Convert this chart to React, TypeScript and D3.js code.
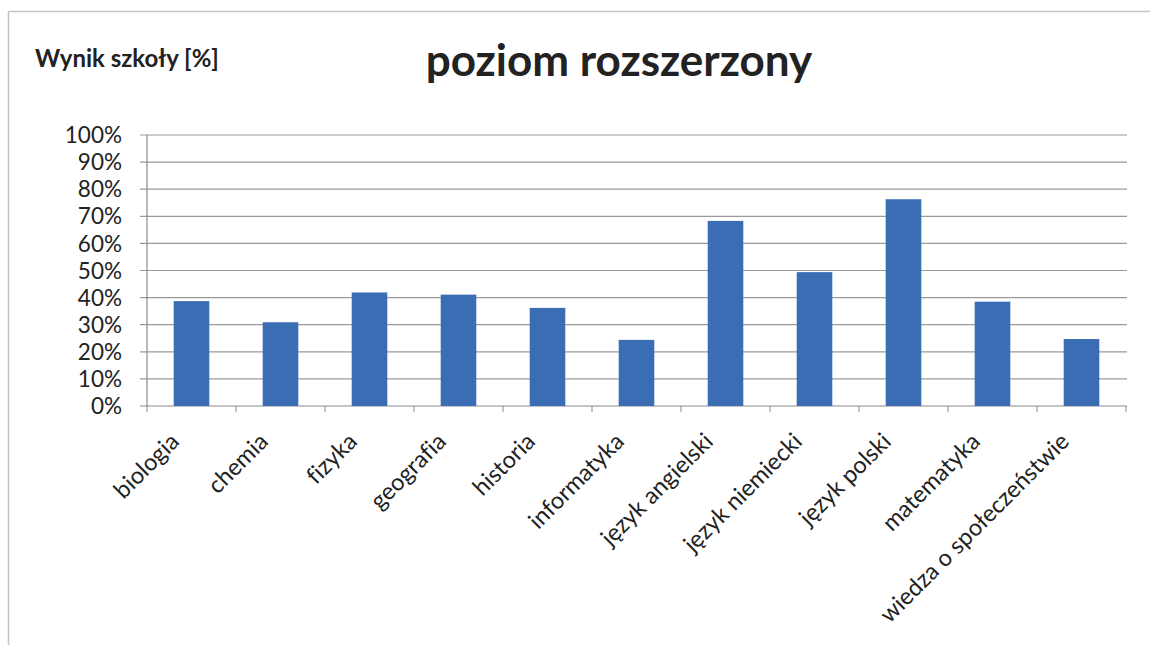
import React from "react";
import * as d3 from "d3";

const categories: string[] = [
  "biologia",
  "chemia",
  "fizyka",
  "geografia",
  "historia",
  "informatyka",
  "język angielski",
  "język niemiecki",
  "język polski",
  "matematyka",
  "wiedza o społeczeństwie",
];
const values: number[] = [0.387, 0.309, 0.419, 0.411, 0.362, 0.244, 0.683, 0.494, 0.763, 0.385, 0.247];
const yTicks: number[] = [0, 0.1, 0.2, 0.3, 0.4, 0.5, 0.6, 0.7, 0.8, 0.9, 1.0];
const title = "poziom rozszerzony";
const axisTitle = "Wynik szkoły [%]";

const W = 1150;
const H = 645;
const FONT = "Lato, 'Open Sans', sans-serif";

export default function App() {
  const left = 147;
  const right = 1126;
  const top = 135;
  const bottom = 406;
  const x = d3
    .scaleBand<string>()
    .domain(categories)
    .range([left, right])
    .paddingInner(0.6)
    .paddingOuter(0.3);
  const y = d3.scaleLinear().domain([0, 1]).range([bottom, top]);
  const fmt = d3.format(".0%");
  const step = x.step();
  const boundaries = d3.range(categories.length + 1).map((i) => left + i * step);

  return (
    <svg
      width={W}
      height={H}
      style={{ position: "absolute", left: 0, top: 0, background: "#fff", fontVariantLigatures: "none" }}
    >
      <rect x={0} y={0} width={W} height={H} fill="#fff" />
      {/* outer border */}
      <line x1={8.5} y1={11.5} x2={W} y2={11.5} stroke="#c4c4c4" strokeWidth={1.5} />
      <line x1={8.5} y1={11.5} x2={8.5} y2={H} stroke="#c4c4c4" strokeWidth={1.5} />

      <text x={35} y={67} fontFamily={FONT} fontWeight={700} fontSize={24} fill="#222">
        {axisTitle}
      </text>
      <text
        x={619}
        y={76}
        fontFamily={FONT}
        fontWeight={700}
        fontSize={44}
        fill="#222"
        textAnchor="middle"
      >
        {title}
      </text>

      {/* gridlines */}
      {yTicks.map((t) => (
        <line
          key={"g" + t}
          x1={left - 7}
          x2={right + 1}
          y1={y(t)}
          y2={y(t)}
          stroke={t === 0 ? "#8c8c8c" : "#9a9a9a"}
          strokeWidth={1.2}
        />
      ))}
      {/* y axis line */}
      <line x1={left} x2={left} y1={top} y2={bottom} stroke="#8c8c8c" strokeWidth={1.2} />
      {/* x ticks */}
      {boundaries.map((bx, i) => (
        <line key={"t" + i} x1={bx} x2={bx} y1={bottom} y2={bottom + 6} stroke="#8c8c8c" strokeWidth={1} />
      ))}

      {/* y labels */}
      {yTicks.map((t) => (
        <text
          key={"l" + t}
          x={122}
          y={y(t)}
          dy="0.36em"
          textAnchor="end"
          fontFamily={FONT}
          fontSize={22.5}
          fill="#222"
        >
          {fmt(t)}
        </text>
      ))}

      {/* bars */}
      {categories.map((c, i) => (
        <rect
          key={"b" + c}
          x={x(c)}
          y={y(values[i])}
          width={x.bandwidth()}
          height={bottom - y(values[i])}
          fill="#3b6db4"
        />
      ))}

      {/* x labels */}
      {categories.map((c) => {
        const cx = (x(c) as number) + x.bandwidth() / 2;
        return (
          <text
            key={"x" + c}
            transform={`translate(${cx - 11},${bottom + 37}) rotate(-45)`}
            textAnchor="end"
            fontFamily={FONT}
            fontSize={23.5}
            fill="#222"
            style={{ fontVariantLigatures: "none" }}
          >
            {c}
          </text>
        );
      })}
    </svg>
  );
}
